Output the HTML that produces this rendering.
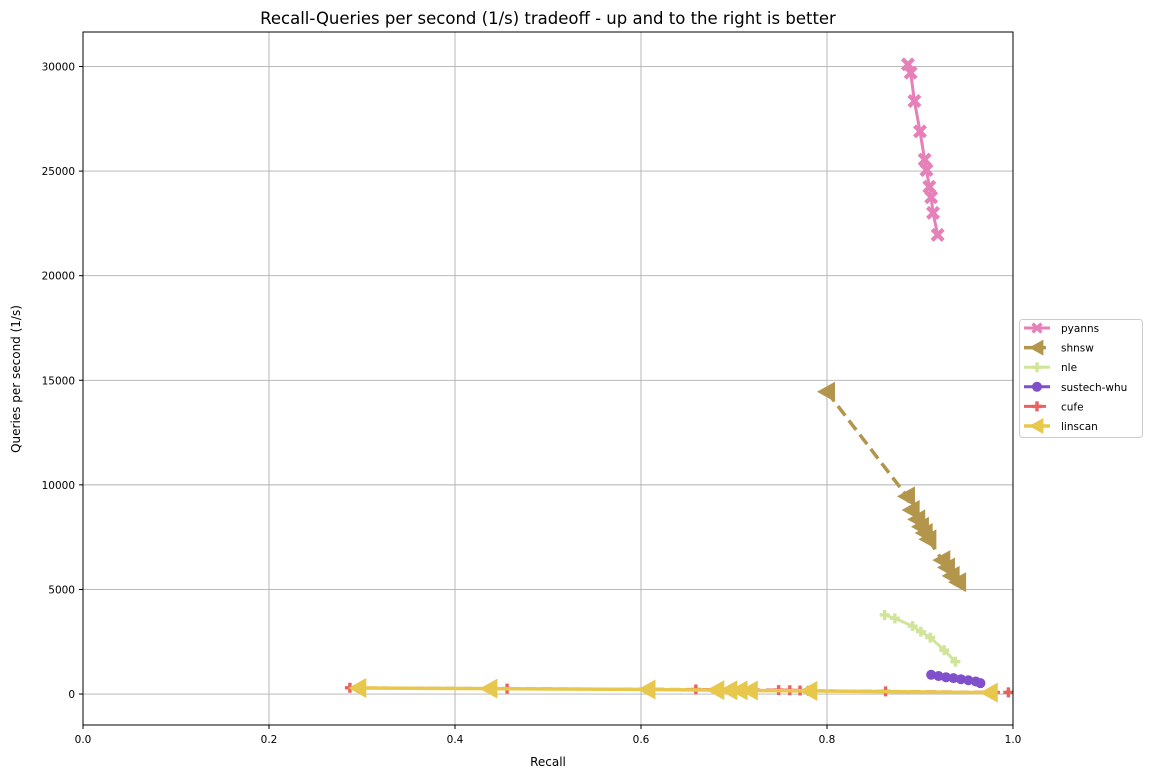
<!DOCTYPE html>
<html><head><meta charset="utf-8"><style>
body{margin:0;background:#fff;}
svg text{font-family:"DejaVu Sans","Liberation Sans",sans-serif;}
</style></head><body>
<svg id="c" width="1153" height="778" xmlns="http://www.w3.org/2000/svg"></svg>
<script>
const xTicks=[0,0.2,0.4,0.6,0.8,1.0];
const xTickLabels=["0.0","0.2","0.4","0.6","0.8","1.0"];
const yTicks=[0,5000,10000,15000,20000,25000,30000];
const pyannsX=[0.887,0.890,0.894,0.900,0.905,0.907,0.910,0.912,0.914,0.919];
const pyannsY=[30100,29700,28350,26900,25550,25050,24250,23750,23000,21950];
const shnswX=[0.800,0.886,0.891,0.897,0.901,0.905,0.909,0.924,0.929,0.934,0.941];
const shnswY=[14450,9450,8800,8350,8000,7700,7400,6400,6050,5650,5350];
const nleX=[0.862,0.873,0.892,0.901,0.911,0.926,0.938];
const nleY=[3780,3620,3250,2980,2700,2100,1550];
const susX=[0.912,0.920,0.928,0.936,0.944,0.952,0.960,0.965];
const susY=[920,860,800,760,710,660,600,520];
const cufeX=[0.287,0.456,0.659,0.748,0.760,0.771,0.780,0.863,0.995];
const cufeY=[300,260,220,190,180,170,160,130,80];
const linX=[0.296,0.437,0.607,0.681,0.695,0.706,0.717,0.781,0.975];
const linY=[290,260,220,190,180,175,170,150,70];

const L=83,R=1013,T=32,B=725,ymin=-1480,ymax=31650;
const sx=v=>L+(v-0)/(1-0)*(R-L);
const sy=v=>B-(v-ymin)/(ymax-ymin)*(B-T);
const svg=document.getElementById('c');
const NS="http://www.w3.org/2000/svg";
function mk(t,a,p){const e=document.createElementNS(NS,t);for(const k in a)e.setAttribute(k,a[k]);(p||svg).appendChild(e);return e;}
mk('rect',{x:0,y:0,width:1153,height:778,fill:'#fff'});
xTicks.forEach((t,i)=>{
 const g=mk('line',{x1:sx(t),x2:sx(t),y1:T,y2:B,stroke:'#b0b0b0','stroke-width':0.9});
 
 
 mk('line',{x1:sx(t),x2:sx(t),y1:B,y2:B+4,stroke:'#000'});
 const tx=mk('text',{x:sx(t),y:B+18,'font-size':10.5,'text-anchor':'middle'});tx.textContent=xTickLabels[i];
 
 
});
yTicks.forEach(t=>{
 const g=mk('line',{x1:L,x2:R,y1:sy(t),y2:sy(t),stroke:'#b0b0b0','stroke-width':0.9});
 
 
 mk('line',{x1:L-4,x2:L,y1:sy(t),y2:sy(t),stroke:'#000'});
 const tx=mk('text',{x:L-8,y:sy(t)+4,'font-size':10.5,'text-anchor':'end'});tx.textContent=String(t);
 
 
});
function marker(type,x,y,c,s,p){
 s=s||1;
 if(type==='x'){const a=7*s,b=3*s;const d=`M${x-a},${y-a+b} L${x-a+b},${y-a} L${x},${y-b} L${x+a-b},${y-a} L${x+a},${y-a+b} L${x+b},${y} L${x+a},${y+a-b} L${x+a-b},${y+a} L${x},${y+b} L${x-a+b},${y+a} L${x-a},${y+a-b} L${x-b},${y} Z`;return mk('path',{d,fill:c},p);}
 if(type==='tri'){return mk('path',{d:`M${x-10*s},${y} L${x+8*s},${y-10*s} L${x+8*s},${y+10*s} Z`,fill:c},p);}
 if(type==='plus'){return mk('path',{d:`M${x-5},${y-1.7}h3.3v-3.3h3.4v3.3h3.3v3.4h-3.3v3.3h-3.4v-3.3h-3.3z`,fill:c},p);}
 if(type==='oct'){return mk('circle',{cx:x,cy:y,r:5,fill:c},p);}
}
const series=[
 {name:'pyanns',X:pyannsX,Y:pyannsY,c:'#e580b8',w:3,dash:'',m:'x'},
 {name:'shnsw',X:shnswX,Y:shnswY,c:'#b3954b',w:3.5,dash:'12,6',m:'tri'},
 {name:'nle',X:nleX,Y:nleY,c:'#d0e59a',w:3,dash:'',m:'plus'},
 {name:'sustech-whu',X:susX,Y:susY,c:'#7f4fcc',w:3,dash:'',m:'oct'},
 {name:'cufe',X:cufeX,Y:cufeY,c:'#e8625f',w:3,dash:'10,6',m:'plus'},
 {name:'linscan',X:linX,Y:linY,c:'#e8c84c',w:3.5,dash:'',m:'tri'}
];
series.forEach(s=>{
 const g=mk('g',{});
 
 
 const pts=s.X.map((x,i)=>sx(x)+','+sy(s.Y[i])).join(' ');
 const pl=mk('polyline',{points:pts,fill:'none',stroke:s.c,'stroke-width':s.w,'stroke-dasharray':s.dash},g);
 
 
 s.X.forEach((x,i)=>{const m=marker(s.m,sx(x),sy(s.Y[i]),s.c,1,g);
  
  });
});
mk('rect',{x:L,y:T,width:R-L,height:B-T,fill:'none',stroke:'#000','stroke-width':1});
const lg=mk('g',{});


mk('rect',{x:1019.5,y:319.5,width:123,height:118,rx:3,fill:'#fff',stroke:'#ccc'},lg);
series.forEach((s,i)=>{
 const y=328+i*19.6;
 const e=mk('g',{},lg);
 
 
 mk('line',{x1:1024,x2:1050,y1:y,y2:y,stroke:s.c,'stroke-width':s.w,'stroke-dasharray':s.dash?'9,4':''},e);
 marker(s.m,1037,y,s.c,0.8,e);
 const t=mk('text',{x:1061,y:y+4,'font-size':10.5},e);t.textContent=s.name;
});
const title=mk('text',{x:548,y:24,'font-size':16.5,'text-anchor':'middle'});title.textContent='Recall-Queries per second (1/s) tradeoff - up and to the right is better';


const xl=mk('text',{x:548,y:766,'font-size':12,'text-anchor':'middle'});xl.textContent='Recall';


const yl=mk('text',{x:0,y:0,'font-size':12,'text-anchor':'middle',transform:'translate(20,379) rotate(-90)'});yl.textContent='Queries per second (1/s)';


</script>
</body></html>
